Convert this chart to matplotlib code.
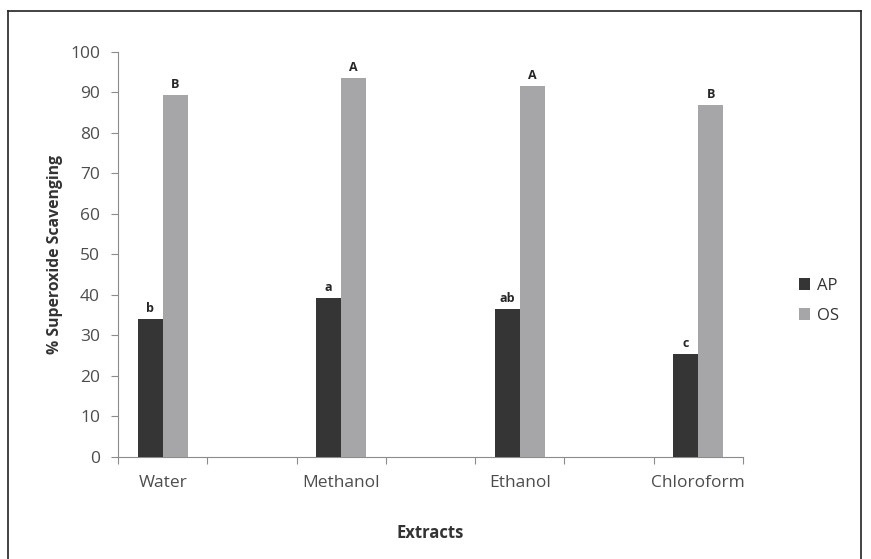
import matplotlib.pyplot as plt
import numpy as np
from matplotlib.lines import Line2D

# data
extracts = ['Water', 'Methanol', 'Ethanol', 'Chloroform']
ap_values = [34.1, 39.3, 36.5, 25.4]
os_values = [89.3, 93.5, 91.7, 87.0]
ap_letters = ['b', 'a', 'ab', 'c']
os_letters = ['B', 'A', 'A', 'B']

plt.rcParams['font.family'] = ['Open Sans', 'DejaVu Sans']

fig = plt.figure(figsize=(8.71, 5.59), dpi=100)
ax = fig.add_axes([0.1355, 0.1825, 0.7175, 0.7245])

# Excel-style layout: blank slots between the named categories
pos = np.arange(len(extracts)) * 2
width = 0.28
ax.bar(pos - width / 2, ap_values, width, color='#353535', label='AP', zorder=3)
ax.bar(pos + width / 2, os_values, width, color='#a6a6a8', label='OS', zorder=3)

for x, v, t in zip(pos - width / 2, ap_values, ap_letters):
    ax.text(x, v + 1.0, t, ha='center', va='bottom', fontsize=9,
            fontweight='bold', color='#262626')
for x, v, t in zip(pos + width / 2, os_values, os_letters):
    ax.text(x, v + 1.0, t, ha='center', va='bottom', fontsize=9,
            fontweight='bold', color='#262626')

ax.set_xlim(-0.5, 6.5)
ax.set_ylim(0, 100)
ax.set_yticks(np.arange(0, 101, 10))
ax.set_xticks(np.arange(-0.5, 7, 1))
ax.set_xticklabels([])
ax.set_xticks(pos, minor=True)
ax.set_xticklabels(extracts, minor=True)
ax.tick_params(axis='x', which='minor', length=0, pad=13,
               labelsize=12.5, labelcolor='#4d4d4d')
ax.tick_params(axis='x', which='major', length=5, color='#8c8c8c')
ax.tick_params(axis='y', length=5, color='#8c8c8c', labelsize=12.5,
               labelcolor='#4d4d4d', pad=8)

for s in ['top', 'right']:
    ax.spines[s].set_visible(False)
for s in ['left', 'bottom']:
    ax.spines[s].set_color('#8c8c8c')

ax.set_ylabel('% Superoxide Scavenging', fontsize=11.3, fontweight='bold',
              color='#333333', labelpad=5)
ax.set_xlabel('Extracts', fontsize=12, fontweight='bold',
              color='#333333', labelpad=24)

ax.legend(loc='center left', bbox_to_anchor=(1.065, 0.385), frameon=False,
          handlelength=0.7, handleheight=0.7, handletextpad=0.4,
          labelspacing=0.85, fontsize=12, labelcolor='#333333')

# outer frame (bottom edge runs off the image)
for xs, ys in [([0.0092, 0.0092], [0.0, 0.981]),
               ([0.0092, 0.988], [0.981, 0.981]),
               ([0.988, 0.988], [0.981, 0.0])]:
    fig.add_artist(Line2D(xs, ys, color='#222222', lw=1.2,
                          transform=fig.transFigure))

fig.savefig('out.png', dpi=100)
